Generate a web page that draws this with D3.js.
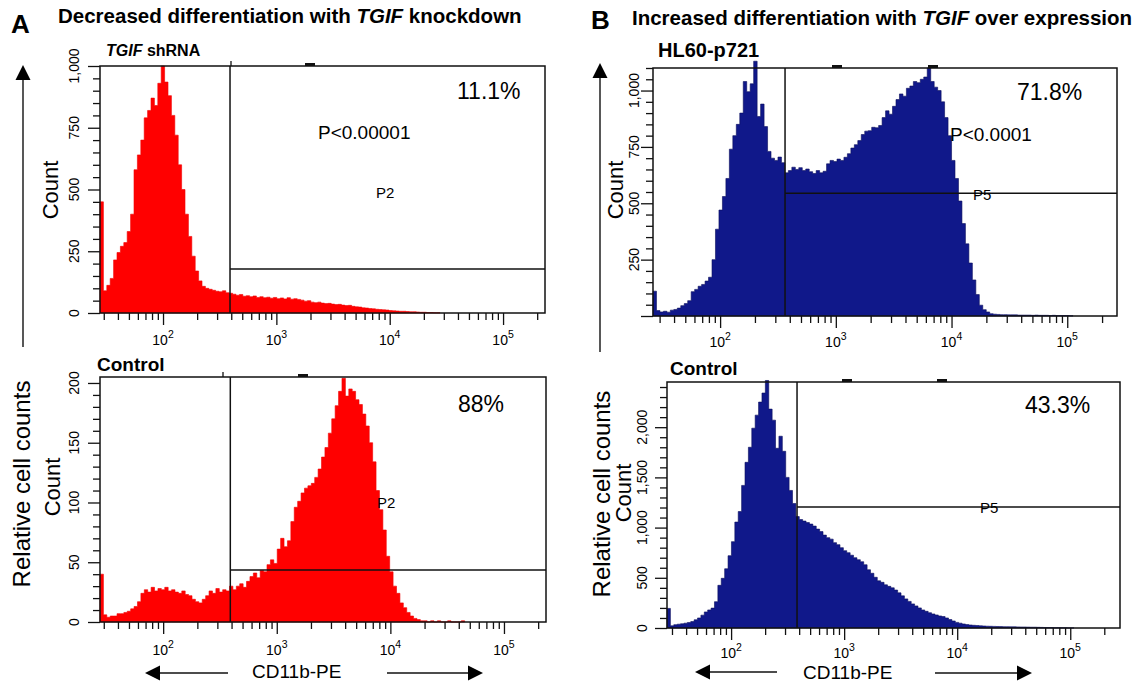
<!DOCTYPE html>
<html>
<head>
<meta charset="utf-8">
<script src="https://cdn.jsdelivr.net/npm/d3@7"></script>
<style>
  body { margin: 0; background: #fff; }
  svg { display: block; }
  text { font-family: "Liberation Sans", Arial, Helvetica, sans-serif; fill: #000; }
</style>
</head>
<body>
<svg id="fig"></svg>
<script>
// ---- data ----
// histogram bins are 0.03 decades wide, starting at log10 value *Start
const binStep = 0.03;

// A, top: TGIF shRNA
const a1Start = 1.444;
const a1Counts = [450, 90, 112, 140, 215, 245, 270, 285, 330, 400, 580, 640, 700, 790, 820, 870, 840, 930, 1000, 935,
  880, 800, 720, 600, 500, 400, 310, 230, 170, 130, 108, 100, 96, 92, 88, 86, 90, 82, 80, 76,
  72, 75, 68, 70, 66, 69, 63, 66, 62, 64, 60, 63, 58, 61, 57, 62, 56, 58, 55, 52,
  48, 50, 44, 42, 44, 40, 38, 39, 36, 34, 35, 32, 30, 31, 27, 25, 24, 21, 20, 18,
  17, 15, 14, 13, 12, 10, 9, 8, 7, 7, 6, 5, 5, 4, 3, 3, 2, 2, 1, 1];

// A, bottom: Control
const a2Start = 1.444;
const a2Counts = [40, 6, 4, 5, 5, 7, 7, 8, 9, 11, 13, 17, 24, 27, 25, 29, 26, 28, 27, 29,
  26, 27, 25, 24, 26, 23, 22, 19, 17, 16, 19, 22, 26, 24, 28, 25, 27, 26, 30, 27,
  30, 32, 29, 34, 38, 41, 37, 43, 42, 48, 52, 49, 61, 70, 63, 68, 84, 96, 101, 108,
  112, 114, 116, 121, 128, 138, 146, 158, 170, 181, 193, 204, 189, 195, 193, 186, 182, 174, 164, 150,
  134, 110, 94, 77, 55, 42, 30, 24, 16, 12, 8, 5, 3, 2, 1, 1, 0, 1, 0, 1,
  0, 0, 1, 0, 0, 0, 1];

// B, top: HL60-p721
const b1Start = 1.42;
const b1Counts = [110, 24, 18, 21, 17, 26, 29, 35, 46, 55, 68, 108, 118, 132, 140, 155, 172, 250, 385, 470,
  530, 610, 740, 800, 850, 900, 1040, 995, 1030, 1130, 885, 940, 840, 730, 700, 690, 705, 680, 635, 645,
  660, 650, 658, 645, 652, 640, 632, 645, 635, 642, 675, 690, 685, 696, 690, 704, 720, 745, 760, 778,
  805, 820, 822, 837, 835, 845, 880, 910, 895, 930, 960, 985, 975, 1010, 1020, 1040, 1035, 1050, 1060, 1100,
  1040, 1015, 1000, 950, 880, 800, 690, 610, 510, 410, 320, 235, 160, 95, 48, 28, 18, 10, 8, 7,
  6, 6, 5, 5, 5, 4, 4, 4, 4, 3, 4, 3, 3, 3, 2, 3, 2, 2, 2, 2, 1];

// B, bottom: Control
const b2Start = 1.433;
const b2Counts = [195, 22, 33, 38, 42, 48, 55, 64, 82, 100, 128, 160, 180, 198, 262, 425, 495, 590, 720, 860,
  1055, 1160, 1420, 1650, 1800, 1990, 2120, 2250, 2340, 2465, 2180, 2070, 1790, 1910, 1760, 1500, 1370, 1240, 1110, 1080,
  1065, 1050, 1035, 1015, 985, 960, 925, 900, 885, 850, 830, 800, 770, 750, 725, 700, 680, 660, 630, 580,
  545, 505, 470, 455, 430, 415, 400, 378, 350, 320, 290, 265, 240, 220, 200, 180, 166, 152, 140, 130,
  120, 114, 100, 84, 70, 56, 48, 40, 34, 30, 27, 25, 22, 20, 18, 17, 16, 15, 14, 13,
  13, 12, 12, 11, 10, 10, 9, 8, 8, 7, 6, 5, 4, 4, 3, 3, 2, 2, 1, 1];

// gates (x in CD11b-PE units, y in counts)
const gateX = [390, 390, 364, 383];
const gateY = [178, 43.5, 545, 1205];
const gateNames = ["P2", "P2", "P5", "P5"];
const pctLabels = ["11.1%", "88%", "71.8%", "43.3%"];
const pLabels = ["P<0.00001", "", "P<0.0001", ""];

// axes
const xExponents = [2, 3, 4, 5];
const a1YTicks = [0, 250, 500, 750, 1000], a1YLabels = ["0", "250", "500", "750", "1,000"];
const a2YTicks = [0, 50, 100, 150, 200], a2YLabels = ["0", "50", "100", "150", "200"];
const b1YTicks = [250, 500, 750, 1000], b1YLabels = ["250", "500", "750", "1,000"];
const b2YTicks = [0, 500, 1000, 1500, 2000], b2YLabels = ["0", "500", "1,000", "1,500", "2,000"];

// ---- layout ----
const W = 1145, H = 684;
const red = "#ff0000", navy = "#10188a";

const panels = [
  {counts: a1Counts, start: a1Start, fill: red, edge: "#f00000",
   box: [100, 66, 545, 313], xLog: [1.444, 5.37], yMax: 1000, yMinor: 50,
   yTicks: a1YTicks, yLabels: a1YLabels, yLabOff: 26, xLabY: 345,
   pct: [457, 99], pval: [318, 139], gname: [376, 198], marks: [305], topTick: 231, count: [50, 190]},
  {counts: a2Counts, start: a2Start, fill: red, edge: "#f00000",
   box: [100, 377, 546, 622], xLog: [1.444, 5.37], yMax: 205, yMinor: 10,
   yTicks: a2YTicks, yLabels: a2YLabels, yLabOff: 26, xLabY: 655,
   pct: [458, 412], pval: null, gname: [377, 508], marks: [298], topTick: 223, count: [52, 487]},
  {counts: b1Counts, start: b1Start, fill: navy, edge: "#0a0e5c",
   box: [653, 68, 1117, 316], xLog: [1.42, 5.43], yMax: 1100, yMinor: 50,
   yTicks: b1YTicks, yLabels: b1YLabels, yLabOff: 19, xLabY: 347,
   pct: [1017, 100], pval: [950, 141], gname: [973, 200], marks: [832, 928], topTick: null, count: [615, 190]},
  {counts: b2Counts, start: b2Start, fill: navy, edge: "#0a0e5c",
   box: [667, 382, 1120, 628], xLog: [1.433, 5.44], yMax: 2450, yMinor: 100,
   yTicks: b2YTicks, yLabels: b2YLabels, yLabOff: 25, xLabY: 658,
   pct: [1025, 413], pval: null, gname: [980, 513], marks: [842, 937], topTick: null, count: [623, 493]}
];

const svg = d3.select("#fig").attr("width", W).attr("height", H);

// x ticks: 30 .. 2e5, decades long
const xTicks = [];
for (let k = 1; k <= 5; k++) for (let m = 1; m <= 9; m++) {
  const v = m * Math.pow(10, k);
  if (v >= 30 && v <= 2e5) xTicks.push(v);
}
const isDecade = v => Math.abs(Math.log10(v) - Math.round(Math.log10(v))) < 1e-9;

panels.forEach((p, pi) => {
  const [L, T, R, B] = p.box;
  const x = d3.scaleLog().domain([Math.pow(10, p.xLog[0]), Math.pow(10, p.xLog[1])]).range([L, R]);
  const y = d3.scaleLinear().domain([0, p.yMax]).range([B, T]);
  const g = svg.append("g");

  // histogram as a stepped area
  const pts = p.counts.map((c, i) => [Math.pow(10, p.start + i * binStep), c]);
  pts.push([Math.pow(10, p.start + p.counts.length * binStep), 0]);
  g.append("path")
    .datum(pts)
    .attr("d", d3.area().curve(d3.curveStepAfter)
      .x(d => x(d[0])).y0(B).y1(d => y(d[1])))
    .attr("fill", p.fill)
    .attr("stroke", p.edge)
    .attr("stroke-width", 0.6);

  // frame
  g.append("rect")
    .attr("x", L).attr("y", T).attr("width", R - L).attr("height", B - T)
    .attr("fill", "none").attr("stroke", "#111").attr("stroke-width", 1.5);

  // gate lines
  const gx = x(gateX[pi]), gy = y(gateY[pi]);
  g.append("line").attr("x1", gx).attr("x2", gx).attr("y1", T).attr("y2", B)
    .attr("stroke", "#111").attr("stroke-width", 1.5);
  g.append("line").attr("x1", gx).attr("x2", R).attr("y1", gy).attr("y2", gy)
    .attr("stroke", "#111").attr("stroke-width", 1.5);

  // little marks on top edge
  p.marks.forEach(mx => g.append("rect").attr("x", mx).attr("y", T - 3).attr("width", 10).attr("height", 3).attr("fill", "#111"));
  if (p.topTick) g.append("line").attr("x1", p.topTick).attr("x2", p.topTick).attr("y1", T - 5).attr("y2", T)
    .attr("stroke", "#111").attr("stroke-width", 1.3);

  // x axis
  const xa = g.append("g").attr("transform", `translate(0,${B})`)
    .call(d3.axisBottom(x).tickValues(xTicks).tickSize(7).tickFormat(""));
  xa.select(".domain").remove();
  xa.selectAll(".tick line").attr("stroke", "#111").attr("stroke-width", 1.3)
    .attr("y2", d => isDecade(d) ? 12 : 7);
  xExponents.forEach(e => {
    const t = g.append("text").attr("x", x(Math.pow(10, e))).attr("y", p.xLabY)
      .attr("text-anchor", "middle").style("font-size", "14px").text("10");
    t.append("tspan").attr("dy", -7).style("font-size", "10.5px").text(e);
  });

  // y axis
  const ya = g.append("g").attr("transform", `translate(${L},0)`)
    .call(d3.axisLeft(y).tickValues(d3.range(0, p.yMax + 1, p.yMinor)).tickSize(7).tickFormat(""));
  ya.select(".domain").remove();
  ya.selectAll(".tick line").attr("stroke", "#111").attr("stroke-width", 1.3)
    .attr("x2", d => p.yTicks.includes(d) || d % (p.yMinor * 5) === 0 ? -12 : -7);
  p.yTicks.forEach((v, i) => {
    const lx = L - p.yLabOff, ly = y(v);
    g.append("text").attr("x", lx).attr("y", ly).attr("dy", "0.35em")
      .attr("text-anchor", "middle").attr("transform", `rotate(-90,${lx},${ly})`)
      .style("font-size", "14px").text(p.yLabels[i]);
  });

  // Count label
  g.append("text").attr("x", p.count[0]).attr("y", p.count[1]).attr("dy", "0.35em")
    .attr("text-anchor", "middle").attr("transform", `rotate(-90,${p.count[0]},${p.count[1]})`)
    .style("font-size", "22px").text("Count");

  // annotations
  g.append("text").attr("x", p.pct[0]).attr("y", p.pct[1]).style("font-size", "23px").text(pctLabels[pi]);
  if (p.pval) g.append("text").attr("x", p.pval[0]).attr("y", p.pval[1]).style("font-size", "19px").text(pLabels[pi]);
  g.append("text").attr("x", p.gname[0]).attr("y", p.gname[1]).style("font-size", "15px").text(gateNames[pi]);
});

// ---- titles and subtitles ----
function title(x, y, parts, size) {
  const t = svg.append("text").attr("x", x).attr("y", y).style("font-size", size + "px").style("font-weight", "bold");
  parts.forEach(([s, it]) => t.append("tspan").style("font-style", it ? "italic" : "normal").text(s));
}
title(11, 33, [["A", false]], 26);
title(591, 29, [["B", false]], 26);
title(58, 23, [["Decreased differentiation with ", false], ["TGIF", true], [" knockdown", false]], 20.5);
title(632, 25, [["Increased differentiation with ", false], ["TGIF", true], [" over expression", false]], 20.5);
title(106, 56, [["TGIF", true], [" shRNA", false]], 16);
title(658, 57, [["HL60-p721", false]], 20);
title(97, 371, [["Control", false]], 19);
title(670, 375, [["Control", false]], 19);

// ---- arrows and outer labels ----
function arrow(x1, y1, x2, y2) {
  // line from (x1,y1) to tip (x2,y2)
  const a = Math.atan2(y2 - y1, x2 - x1), hl = 15, hw = 7.5;
  const bx = x2 - hl * Math.cos(a), by = y2 - hl * Math.sin(a);
  svg.append("line").attr("x1", x1).attr("y1", y1).attr("x2", bx).attr("y2", by)
    .attr("stroke", "#111").attr("stroke-width", 1.4);
  svg.append("path")
    .attr("d", `M${x2},${y2}L${bx + hw * Math.sin(a)},${by - hw * Math.cos(a)}L${bx - hw * Math.sin(a)},${by + hw * Math.cos(a)}Z`)
    .attr("fill", "#000");
}
arrow(23, 347, 23, 65);
arrow(600, 352, 600, 63);
arrow(228, 673, 145, 673);
arrow(387, 673, 483, 673);
arrow(777, 672, 695, 672);
arrow(935, 673, 1032, 673);

[[22, 484], [602, 494]].forEach(([cx, cy]) => {
  svg.append("text").attr("x", cx).attr("y", cy).attr("dy", "0.35em")
    .attr("text-anchor", "middle").attr("transform", `rotate(-90,${cx},${cy})`)
    .style("font-size", "24px").text("Relative cell counts");
});
svg.append("text").attr("x", 252).attr("y", 678).style("font-size", "19px").text("CD11b-PE");
svg.append("text").attr("x", 803).attr("y", 679).style("font-size", "19px").text("CD11b-PE");
</script>
</body>
</html>
